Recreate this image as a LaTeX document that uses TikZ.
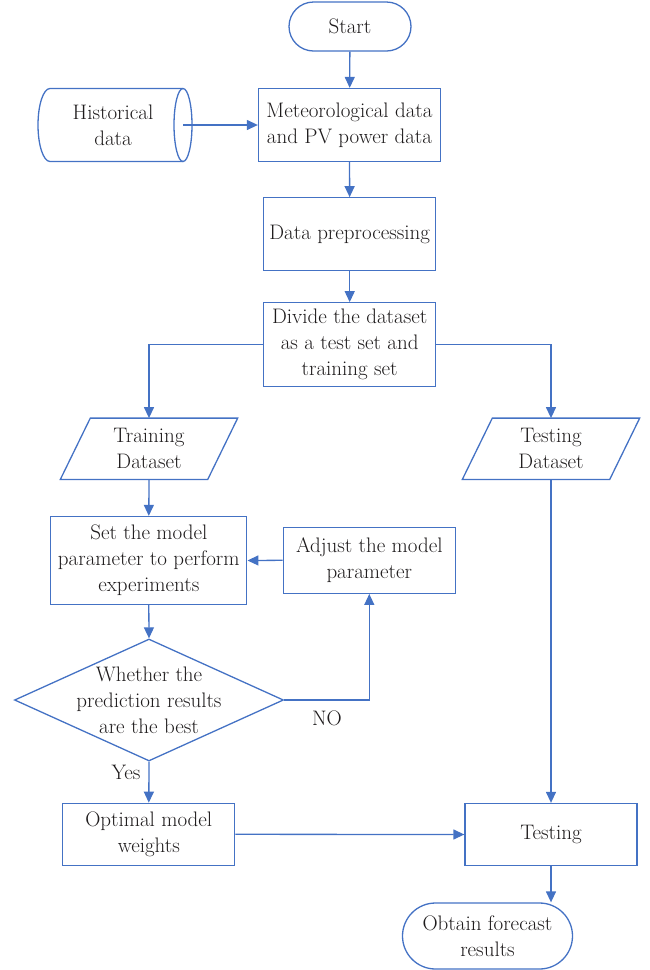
\documentclass[tikz,border=0pt]{standalone}
\usetikzlibrary{arrows.meta,shapes.geometric,shapes.misc}
\definecolor{flowblue}{RGB}{68,114,196}
\definecolor{ink}{RGB}{30,27,28}
\begin{document}
\begin{tikzpicture}[x=1pt,y=-1pt,
  every node/.style={font=\fontsize{21}{26}\selectfont, text=ink, align=center, inner sep=1pt},
  outline/.style={draw=flowblue, line width=1.3pt},
  procbox/.style={outline, rectangle},
  termbox/.style={outline, rounded rectangle},
  datablock/.style={rectangle},
  flow/.style={draw=flowblue, line width=1.3pt, -{Triangle[length=11pt,width=10pt]}}]
\useasboundingbox (0,0) rectangle (649,970);

% main column
\node[termbox, minimum width=124pt, minimum height=49pt] (start) at (350,26.5) {Start};
\node[procbox, minimum width=182pt, minimum height=73pt] (met) at (349.5,125) {Meteorological data\\and PV power data};
\node[procbox, minimum width=172pt, minimum height=73pt] (prep) at (349.7,234.3) {Data preprocessing};
\node[procbox, minimum width=172pt, minimum height=84pt] (div) at (349.7,344.8) {Divide the dataset\\as a test set and\\training set};

% historical data store (horizontal cylinder)
\node (hist) at (113,125) {Historical\\data};
\draw[outline] (183,88.5) -- (50,88.5) arc[start angle=90, end angle=270, x radius=12pt, y radius=36.5pt] -- (183,161.5);
\draw[outline] (183,125) ellipse [x radius=9pt, y radius=36.5pt];
\coordinate (histend) at (183,125);

% data sets (parallelograms)
\node[datablock, minimum width=147pt, minimum height=61pt] (train) at (149,448.8) {Training\\Dataset};
\draw[outline] ([xshift=-15pt]train.south west) -- ([xshift=-15pt]train.south east)
  -- ([xshift=15pt]train.north east) -- ([xshift=15pt]train.north west) -- cycle;
\node[datablock, minimum width=147pt, minimum height=61pt] (tds) at (551,448.8) {Testing\\Dataset};
\draw[outline] ([xshift=-15pt]tds.south west) -- ([xshift=-15pt]tds.south east)
  -- ([xshift=15pt]tds.north east) -- ([xshift=15pt]tds.north west) -- cycle;

% training branch
\node[procbox, minimum width=196pt, minimum height=88pt] (set) at (148.8,560.5) {Set the model\\parameter to perform\\experiments};
\node[procbox, minimum width=172pt, minimum height=66pt] (adj) at (369.3,560.3) {Adjust the model\\parameter};
\node[outline, diamond, minimum width=269pt, minimum height=122pt, inner sep=0pt] (dec) at (149,700) {};
\node at (dec) {Whether the\\prediction results\\are the best};
\node[procbox, minimum width=172pt, minimum height=62pt] (opt) at (148.8,834.3) {Optimal model\\weights};

% testing branch
\node[procbox, minimum width=172pt, minimum height=62pt] (test) at (551,834.5) {Testing};
\node[termbox, minimum width=172pt, minimum height=66pt] (obt) at (487.5,936) {Obtain forecast\\results};

% connectors
\draw[flow] (start) -- (met);
\draw[flow] (histend) -- (met.west);
\draw[flow] (met) -- (prep);
\draw[flow] (prep) -- (div);
\draw[flow] (div.west) -| (train.north);
\draw[flow] (div.east) -| (tds.north);
\draw[flow] (train.south) -- (set.north);
\draw[flow] (set.south) -- (dec.north);
\draw[flow] (dec.east) -| (adj.south);
\draw[flow] (adj.west) -- (set.east);
\draw[flow] (dec.south) -- (opt.north);
\draw[flow] (opt.east) -- (test.west);
\draw[flow] (tds.south) -- (test.north);
\draw[flow] (test.south) -- (test.south |- obt.north);

% branch labels
\node (no) at (327,718) {NO};
\node (yes) at (126,772) {Yes};
\end{tikzpicture}
\end{document}
